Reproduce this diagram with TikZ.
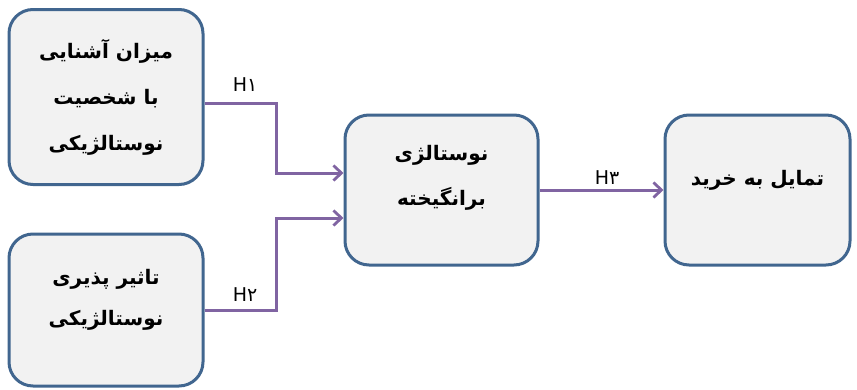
\documentclass[tikz,border=0pt]{standalone}
\usepackage{fontspec}
\setmainfont{DejaVu Sans}
\newfontfamily\arabicfont[Script=Arabic]{DejaVu Sans}
\TeXXeTstate=1
\usetikzlibrary{arrows.meta}
\definecolor{boxborder}{HTML}{41668F}
\definecolor{boxfill}{HTML}{F2F2F2}
\definecolor{arrowcol}{HTML}{8064A2}
\tikzset{
  box/.style={draw=boxborder, fill=boxfill, line width=3pt, rounded corners=24pt, inner sep=0pt},
  txt/.style={font=\arabicfont\bfseries\fontsize{20}{46}\selectfont, align=center, inner sep=0pt, text=black},
  conn/.style={draw=arrowcol, line width=3pt, -{Straight Barb[length=8pt,width=15pt,line width=2.8pt]}},
  hlab/.style={font=\fontsize{19}{19}\selectfont, inner sep=0pt, text=black}
}
\begin{document}
\begin{tikzpicture}[x=1pt,y=-1pt]
\useasboundingbox (0,0) rectangle (857,389);
\node[box, minimum width=194pt, minimum height=175pt] (b1) at (106,97) {};
\node[box, minimum width=194pt, minimum height=152pt] (b2) at (106,310) {};
\node[box, minimum width=193pt, minimum height=150pt] (b3) at (441.5,190) {};
\node[box, minimum width=185pt, minimum height=150pt] (b4) at (757.5,190) {};
\node[txt] (t1) at (106,97) {\beginR میزان آشنایی\endR\\\beginR با شخصیت\endR\\\beginR نوستالژیکی\endR};
\node[txt, font=\arabicfont\bfseries\fontsize{20}{41}\selectfont] (t2) at (106,300) {\beginR تاثیر پذیری\endR\\\beginR نوستالژیکی\endR};
\node[txt, font=\arabicfont\bfseries\fontsize{20}{45}\selectfont] (t3) at (441.5,178) {\beginR نوستالژی\endR\\\beginR برانگیخته\endR};
\node[txt] (t4) at (757.5,180) {\beginR تمایل به خرید\endR};
\draw[conn] ([yshift=-6pt]b1.east) -- ++(72,0) |- ([yshift=17pt]b3.west);
\draw[conn] (b2.east) -- ++(72,0) |- ([yshift=-28pt]b3.west);
\draw[conn] (b3.east) -- (b4.west);
\node[hlab] (h1) at (245,85) {H{\arabicfont ۱}};
\node[hlab] (h2) at (245,295) {H{\arabicfont ۲}};
\node[hlab] (h3) at (607,178) {H{\arabicfont ۳}};
\end{tikzpicture}
\end{document}
